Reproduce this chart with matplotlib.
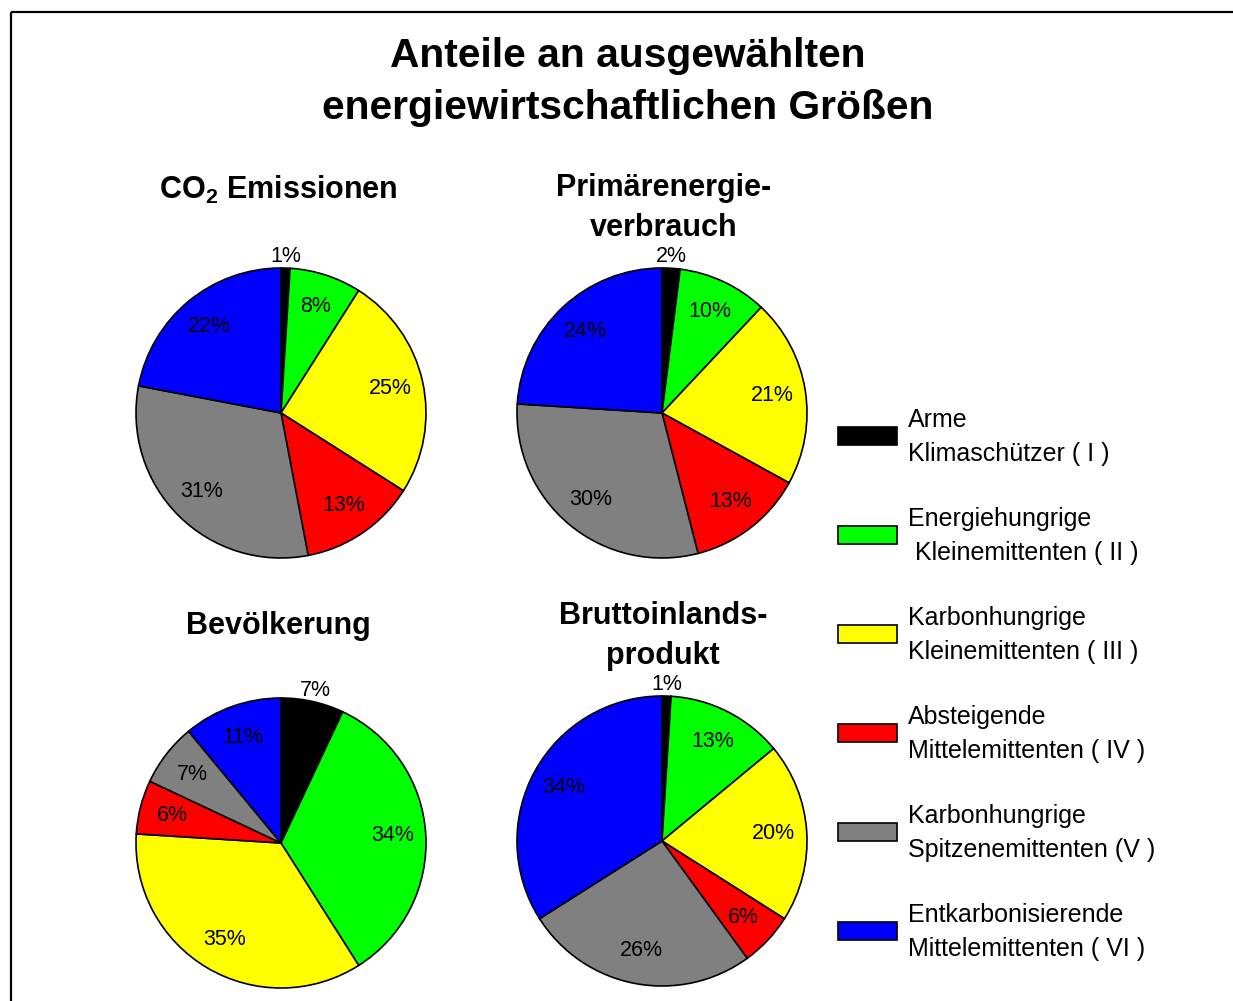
import numpy as np
import matplotlib
matplotlib.use("Agg")
import matplotlib.pyplot as plt
from matplotlib.patches import Rectangle

plt.rcParams["font.family"] = ["Liberation Sans", "DejaVu Sans"]
plt.rcParams["mathtext.fontset"] = "custom"
plt.rcParams["mathtext.rm"] = "Liberation Sans"
plt.rcParams["mathtext.bf"] = "Liberation Sans:bold"

# Daten (Anteile in %), Reihenfolge im Uhrzeigersinn ab 12 Uhr
gruppen = [
    "Arme\nKlimaschützer ( I )",
    "Energiehungrige\n Kleinemittenten ( II )",
    "Karbonhungrige\nKleinemittenten ( III )",
    "Absteigende\nMittelemittenten ( IV )",
    "Karbonhungrige\nSpitzenemittenten (V )",
    "Entkarbonisierende\nMittelemittenten ( VI )",
]
farben = ["#000000", "#00FF00", "#FFFF00", "#FF0000", "#808080", "#0000FF"]

co2 = [1, 8, 25, 13, 31, 22]
primaerenergie = [2, 10, 21, 13, 30, 24]
bevoelkerung = [7, 34, 35, 6, 7, 11]
bip = [1, 13, 20, 6, 26, 34]

W, H = 1233, 1001
fig = plt.figure(figsize=(W / 100, H / 100), dpi=100)

# Hintergrund-Achse in Pixelkoordinaten für Texte, Rahmen und Legende
ov = fig.add_axes([0, 0, 1, 1])
ov.set_xlim(0, W)
ov.set_ylim(H, 0)
ov.axis("off")
ov.add_patch(Rectangle((11, 12), W + 20, H + 20, fill=False, lw=1.6,
                       edgecolor="black", clip_on=False))

ov.text(628, 82, "Anteile an ausgewählten\nenergiewirtschaftlichen Größen",
        ha="center", va="center", fontsize=29.3, fontweight="bold", linespacing=1.45)


def kuchen(daten, cx, cy, r, titel, tx, ty):
    ax = fig.add_axes([(cx - r) / W, 1 - (cy + r) / H, 2 * r / W, 2 * r / H])
    wedges, _, autotexts = ax.pie(
        daten, colors=farben, startangle=90, counterclock=False,
        autopct="%1.0f%%", pctdistance=0.77,
        wedgeprops=dict(edgecolor="black", linewidth=1.2),
        textprops=dict(fontsize=15.5, color="black"))
    # kleines schwarzes Segment: Beschriftung außerhalb
    w0 = wedges[0]
    mid = np.deg2rad((w0.theta1 + w0.theta2) / 2)
    autotexts[0].set_position((1.08 * np.cos(mid), 1.08 * np.sin(mid)))
    ax.set_xlim(-1, 1)
    ax.set_ylim(-1, 1)
    ov.text(tx, ty, titel, ha="center", va="center", fontsize=22,
            fontweight="bold", linespacing=1.4)
    return wedges


kuchen(co2, 281, 413, 145, "CO$_\\mathbf{2}$ Emissionen", 278, 190)
kuchen(primaerenergie, 662, 413, 145, "Primärenergie-\nverbrauch", 664, 208)
kuchen(bevoelkerung, 281, 843, 145, "Bevölkerung", 278, 626)
kuchen(bip, 662, 841, 145, "Bruttoinlands-\nprodukt", 663, 636)

# Legende
ly = [436, 535, 634, 733, 832, 931]
for name, farbe, y in zip(gruppen, farben, ly):
    ov.add_patch(Rectangle((838, y - 9), 59, 18, facecolor=farbe,
                           edgecolor="black", lw=1.2))
    ov.text(908, y + 1, name, ha="left", va="center", fontsize=18, linespacing=1.5)

fig.savefig("out.png", dpi=100)
